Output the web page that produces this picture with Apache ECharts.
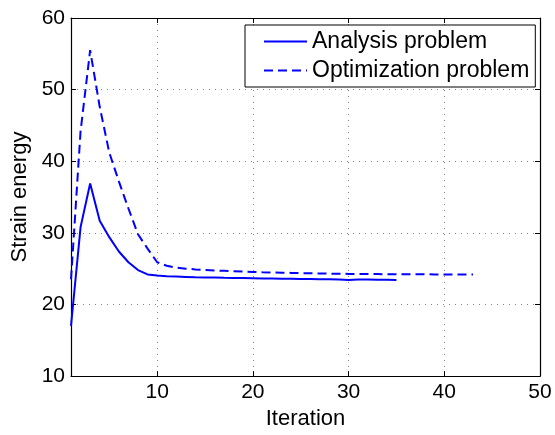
<!DOCTYPE html>
<html>
<head>
<meta charset="utf-8">
<script src="https://cdn.jsdelivr.net/npm/echarts@6/dist/echarts.min.js"></script>
<style>
  html, body { margin: 0; padding: 0; background: #fff; }
  #chart { width: 555px; height: 435px; }
</style>
</head>
<body>
<div id="chart"></div>
<script>
// values
const analysisIter = [];
for (let i = 1; i <= 35; i++) analysisIter.push(i);
const analysisEnergy = [17.0, 30.8, 36.9, 31.7, 29.4, 27.4, 25.9, 24.8, 24.2, 24.05,
  23.95, 23.9, 23.85, 23.8, 23.78, 23.75, 23.72, 23.7, 23.68, 23.66,
  23.64, 23.62, 23.6, 23.58, 23.56, 23.55, 23.53, 23.52, 23.5, 23.42,
  23.48, 23.5, 23.45, 23.45, 23.42];

const optimIter = [];
for (let i = 1; i <= 43; i++) optimIter.push(i);
const optimEnergy = [23.5, 44.2, 55.5, 47.6, 41.2, 37.2, 33.4, 29.8, 27.8, 25.9,
  25.4, 25.15, 25.0, 24.9, 24.82, 24.75, 24.7, 24.65, 24.6, 24.55,
  24.5, 24.47, 24.44, 24.41, 24.38, 24.35, 24.33, 24.31, 24.29, 24.27,
  24.26, 24.25, 24.24, 24.23, 24.22, 24.22, 24.21, 24.21, 24.2, 24.2,
  24.2, 24.2, 24.2];

const seriesNames = ['Analysis problem', 'Optimization problem'];

function pairs (xs, ys) {
  let out = [];
  for (let i = 0; i < xs.length; i++) out.push([xs[i], ys[i]]);
  return out;
}

const font = "'Liberation Sans', Arial, sans-serif";
const gridLine = { show: true, lineStyle: { color: '#8a8a8a', width: 1, type: [1, 5] } };
const tick = { show: true, inside: true, length: 5, lineStyle: { color: '#000' } };
const line = { show: true, lineStyle: { color: '#000', width: 1.2 } };

let chart = echarts.init(document.getElementById('chart'));
let option = {
  backgroundColor: '#fff',
  animation: false,
  textStyle: { fontFamily: font },
  grid: { left: 71, top: 18, right: 15, bottom: 52 },
  legend: {
    data: seriesNames,
    orient: 'vertical',
    left: 245,
    top: 25,
    padding: [5, 6, 5, 18],
    itemWidth: 43,
    itemHeight: 14,
    itemGap: 6,
    borderColor: '#000',
    borderWidth: 1,
    backgroundColor: '#fff',
    itemStyle: { opacity: 0 },
    textStyle: { fontSize: 23, color: '#000', fontFamily: font }
  },
  xAxis: [{
    type: 'value',
    min: 1,
    max: 50,
    splitNumber: 5,
    name: 'Iteration',
    nameLocation: 'middle',
    nameGap: 29,
    nameTextStyle: { fontSize: 22, color: '#000', fontFamily: font },
    axisLine: line,
    axisTick: tick,
    axisLabel: { showMinLabel: false, fontSize: 21, color: '#000', margin: 6, fontFamily: font },
    splitLine: gridLine
  }, {
    type: 'value',
    position: 'top',
    min: 1,
    max: 50,
    splitNumber: 5,
    axisLine: line,
    axisTick: tick,
    axisLabel: { show: false },
    splitLine: { show: false }
  }],
  yAxis: [{
    type: 'value',
    min: 10,
    max: 60,
    interval: 10,
    name: 'Strain energy',
    nameLocation: 'middle',
    nameGap: 37,
    nameTextStyle: { fontSize: 22, color: '#000', fontFamily: font },
    axisLine: line,
    axisTick: tick,
    axisLabel: { fontSize: 21, color: '#000', margin: 6, fontFamily: font },
    splitLine: gridLine
  }, {
    type: 'value',
    position: 'right',
    min: 10,
    max: 60,
    interval: 10,
    axisLine: line,
    axisTick: tick,
    axisLabel: { show: false },
    splitLine: { show: false }
  }],
  series: [{
    name: seriesNames[0],
    type: 'line',
    symbol: 'none',
    data: pairs(analysisIter, analysisEnergy),
    lineStyle: { color: '#0000ff', width: 2 },
    itemStyle: { color: '#0000ff' }
  }, {
    name: seriesNames[1],
    type: 'line',
    symbol: 'none',
    data: pairs(optimIter, optimEnergy),
    lineStyle: { color: '#0000ff', width: 2, type: [9, 5] },
    itemStyle: { color: '#0000ff' }
  }]
};
chart.setOption(option);
</script>
</body>
</html>
